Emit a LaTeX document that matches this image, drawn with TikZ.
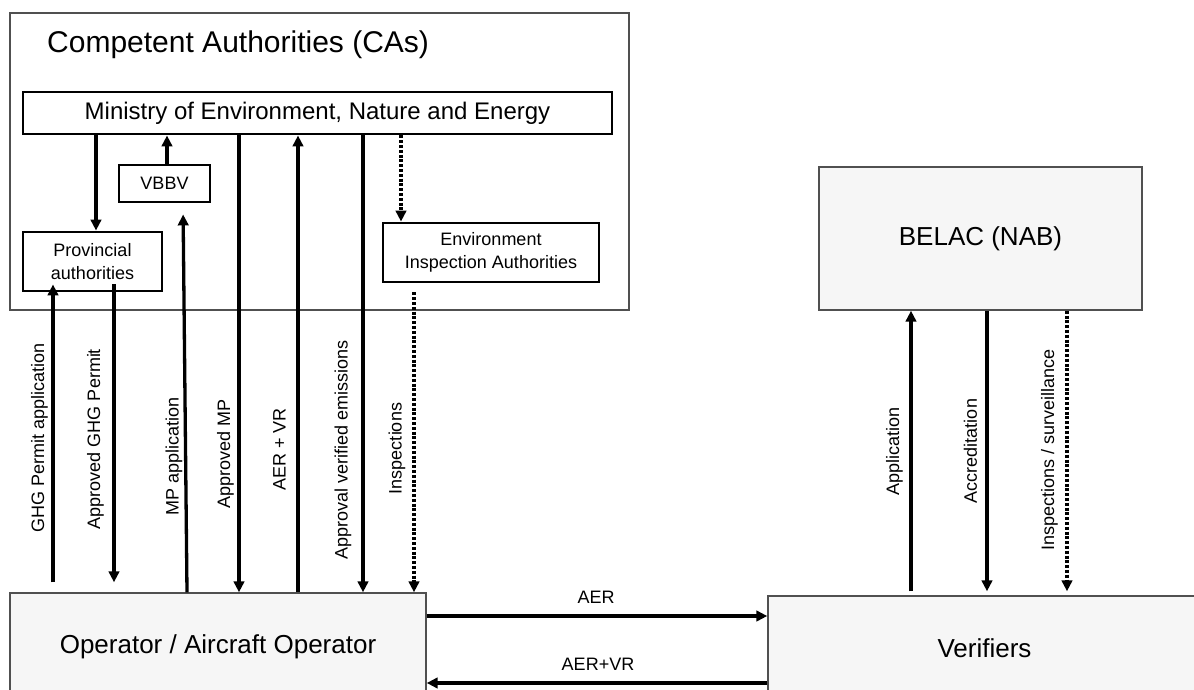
\documentclass[tikz,border=0pt]{standalone}
\usepackage{fontspec}
\setmainfont{Liberation Sans}
\usepackage{tikz}
\usetikzlibrary{arrows.meta,positioning,calc}
\usepackage{xcolor}
\definecolor{boxgray}{HTML}{F6F6F6}
\definecolor{edgegray}{HTML}{505050}
\tikzset{
  outerbox/.style = {draw=edgegray, line width=1.4pt, rectangle, inner sep=0pt},
  unitbox/.style  = {draw, line width=2.9pt, rectangle, inner sep=0pt,
                     align=center, font=\fontsize{18}{23}\selectfont},
  flow/.style     = {-{Triangle[length=11pt,width=10.5pt]}, line width=3.3pt},
  check/.style    = {flow, dash pattern=on 3pt off 1.8pt},
  vlabel/.style   = {rotate=90, inner sep=0pt, font=\fontsize{18}{22}\selectfont},
  hlabel/.style   = {inner sep=0pt, font=\fontsize{18}{22}\selectfont},
}
\begin{document}
\begin{tikzpicture}[x=1pt, y=-1pt]
\useasboundingbox (0,0) rectangle (1194,690);
% ---------------- competent authorities ----------------
\node[outerbox, fill=white, minimum width=619pt, minimum height=297pt] (ca) at (319.5,161.5) {};
\node[anchor=base west, inner sep=0pt, font=\fontsize{30}{36}\selectfont] (catitle) at (47,53)
      {Competent Authorities (CAs)};
\node[unitbox, minimum width=589pt, minimum height=42pt, font=\fontsize{24}{28}\selectfont]
      (min) at (317.5,113) {Ministry of Environment, Nature and Energy};
\node[unitbox, minimum width=91pt, minimum height=37pt] (vbbv) at (164.5,183.5) {VBBV};
\node[unitbox, minimum width=139pt, minimum height=59pt] (prov) at (92.5,261.5)
      {Provincial\\authorities};
\node[unitbox, minimum width=216pt, minimum height=59pt] (eia) at (491,252.5)
      {Environment\\Inspection Authorities};
% ---------------- accreditation body ----------------
\node[outerbox, fill=boxgray, minimum width=323pt, minimum height=143pt,
      font=\fontsize{26}{30}\selectfont] (belac) at (980.5,238.5) {BELAC (NAB)};
% ---------------- operator and verifiers (run past the page edge) ----------------
\node[outerbox, fill=boxgray, minimum width=416pt, minimum height=108pt,
      font=\fontsize{26}{30}\selectfont] (op) at (218,647) {Operator / Aircraft Operator};
\node[outerbox, fill=boxgray, minimum width=433pt, minimum height=104pt,
      font=\fontsize{26}{30}\selectfont] (ver) at (984.5,648) {Verifiers};
% ---------------- links inside the CAs ----------------
\draw[flow] (96,0 |- min.south) -- (96,0 |- prov.north);
\draw[flow] (167,0 |- vbbv.north) -- (167,0 |- min.south);
\draw[check] (401,0 |- min.south) -- (401,0 |- eia.north);
% ---------------- operator <-> CAs ----------------
\draw[flow, shorten <=10pt, shorten >=-8pt] (53,0 |- op.north) -- (53,0 |- prov.south);
\draw[flow, shorten <=-8pt, shorten >=10pt] (114,0 |- prov.south) -- (114,0 |- op.north);
\draw[flow, shorten >=11pt] (187,0 |- op.north) -- (183,0 |- vbbv.south);
\draw[flow] (239,0 |- min.south) -- (239,0 |- op.north);
\draw[flow] (298,0 |- op.north) -- (298,0 |- min.south);
\draw[flow] (363,0 |- min.south) -- (363,0 |- op.north);
\draw[check, shorten <=9pt] (414,0 |- eia.south) -- (414,0 |- op.north);
\node[vlabel] (l1) at (39.5,438) {GHG Permit application};
\node[vlabel] (l2) at (95.5,439) {Approved GHG Permit};
\node[vlabel] (l3) at (174,456) {MP application};
\node[vlabel] (l4) at (225.5,454) {Approved MP};
\node[vlabel] (l5) at (279.5,449.5) {AER + VR};
\node[vlabel] (l6) at (343,450) {Approval verified emissions};
\node[vlabel] (l7) at (397,448.5) {Inspections};
% ---------------- verifiers <-> BELAC ----------------
\draw[flow, shorten <=4pt] (911,0 |- ver.north) -- (911,0 |- belac.south);
\draw[flow, shorten >=4pt] (987,0 |- belac.south) -- (987,0 |- ver.north);
\draw[check, shorten >=4pt] (1067,0 |- belac.south) -- (1067,0 |- ver.north);
\node[vlabel] (l8) at (894.5,451) {Application};
\node[vlabel] (l9) at (970.5,451) {Accreditation};
\node[vlabel] (l10) at (1049.5,450) {Inspections / surveillance};
% ---------------- operator <-> verifiers ----------------
\draw[flow] (op.east |- 0,616) -- (ver.west |- 0,616);
\draw[flow] (ver.west |- 0,683) -- (op.east |- 0,683);
\node[hlabel, anchor=base] (aer) at (596,603) {AER};
\node[hlabel, anchor=base] (aervr) at (598,670) {AER+VR};
\end{tikzpicture}
\end{document}
